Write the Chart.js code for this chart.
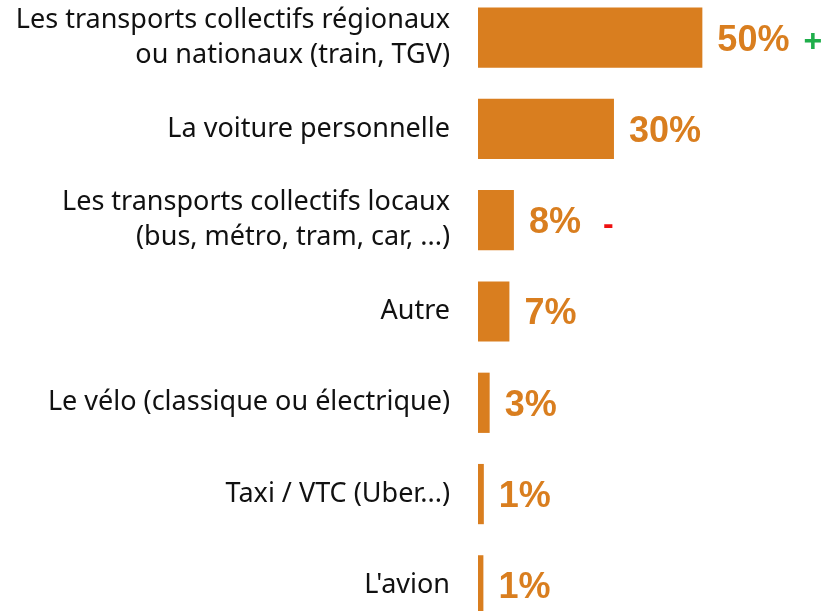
<!DOCTYPE html>
<html>
<head>
<meta charset="utf-8">
<script src="https://cdn.jsdelivr.net/npm/chart.js@4/dist/chart.umd.min.js"></script>
<style>
  html, body { margin: 0; padding: 0; background: #fff; overflow: hidden; }
  #wrap { position: absolute; left: 0; top: -8px; width: 828px; height: 639px; }
</style>
</head>
<body>
<div id="wrap"><canvas id="myChart"></canvas></div>
<script>
// Data
const categories = [
  ['Les transports collectifs régionaux', 'ou nationaux (train, TGV)'],
  'La voiture personnelle',
  ['Les transports collectifs locaux', '(bus, métro, tram, car, ...)'],
  'Autre',
  'Le vélo (classique ou électrique)',
  'Taxi / VTC (Uber...)',
  "L'avion"
];
const values = [50, 30.3, 8, 7, 2.6, 1.3, 1.2];
const valueLabels = ['50%', '30%', '8%', '7%', '3%', '1%', '1%'];
const markers = ['+', '', '-', '', '', '', ''];
const markerColors = ['#1fae4b', '', '#ee1111', '', '', '', ''];

const orange = '#d97e1f';

// value labels + the +/- markers
const valueLabelPlugin = {
  id: 'valueLabels',
  afterDatasetsDraw(chart) {
    const ctx = chart.ctx;
    const meta = chart.getDatasetMeta(0);
    ctx.save();
    ctx.textBaseline = 'middle';
    ctx.textAlign = 'left';
    meta.data.forEach((bar, i) => {
      ctx.font = 'bold 36px "Liberation Sans", Arial, sans-serif';
      ctx.fillStyle = orange;
      const x = bar.x + 15;
      ctx.fillText(valueLabels[i], x, bar.y + 3);
      if (markers[i]) {
        const w = ctx.measureText(valueLabels[i]).width;
        ctx.font = 'bold 32px "Liberation Sans", Arial, sans-serif';
        ctx.fillStyle = markerColors[i];
        ctx.fillText(markers[i], x + w + (markers[i] === '+' ? 14 : 22), bar.y + 5);
      }
    });
    ctx.restore();
  }
};

new Chart(
  document.getElementById('myChart'),
  {
    type: 'bar',
    plugins: [valueLabelPlugin],
    data: {
      labels: categories,
      datasets: [
        {
          data: values,
          backgroundColor: orange,
          borderWidth: 0,
          categoryPercentage: 1,
          barPercentage: 0.66
        }
      ]
    },
    options: {
      indexAxis: 'y',
      animation: false,
      responsive: true,
      maintainAspectRatio: false,
      layout: { padding: 0 },
      plugins: {
        legend: { display: false },
        tooltip: { enabled: false }
      },
      scales: {
        x: {
          display: false,
          min: 0,
          max: 78
        },
        y: {
          grid: { display: false },
          border: { display: false },
          afterFit: (scale) => {
            scale.width = 478;
            scale.paddingTop = 0;
            scale.paddingBottom = 0;
          },
          ticks: {
            padding: 20,
            color: '#111',
            font: { family: '"Noto Sans", sans-serif', size: 27, lineHeight: 1.3 }
          }
        }
      }
    }
  }
);
</script>
</body>
</html>
